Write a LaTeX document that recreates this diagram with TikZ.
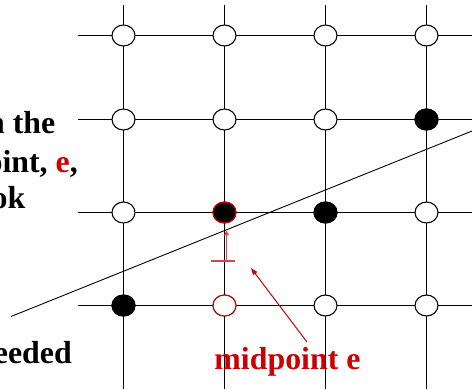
\documentclass[tikz,border=0pt]{standalone}
\usepackage{fontspec}
\setmainfont{Liberation Serif}
\usetikzlibrary{shapes.geometric,arrows.meta}
\definecolor{ered}{RGB}{204,0,0}
\definecolor{tickred}{RGB}{222,70,70}
\tikzset{
  grid line/.style={line width=1.1pt, black},
  pix/.style={ellipse, draw=black, line width=1.1pt, fill=white,
              minimum width=23bp, minimum height=21bp, inner sep=0pt},
  on/.style={pix, fill=black},
  label text/.style={font=\bfseries\fontsize{32}{36}\selectfont, inner sep=0pt},
}
\begin{document}
\begin{tikzpicture}[x=1bp,y=-1bp]
\useasboundingbox (0,0) rectangle (472,389);

% grid line end points
\foreach \c/\x in {1/123.5,2/224.5,3/325.5,4/426.5}{
  \coordinate (top\c) at (\x,5);
  \coordinate (bot\c) at (\x,389);
}
\foreach \r/\y in {1/35.5,2/119.5,3/212.5,4/305.5}{
  \coordinate (lft\r) at (78,\y);
  \coordinate (rgt\r) at (472,\y);
}
\foreach \i in {1,2,3,4}{
  \draw[grid line] (top\i) -- (bot\i);
  \draw[grid line] (lft\i) -- (rgt\i);
}

% pixel centres
\foreach \c/\x in {1/123.5,2/224.5,3/325.5,4/426.5}{
  \foreach \r/\y in {1/35.5,2/119.5,3/212.5,4/305.5}{
    \node[pix] (p\c\r) at (\x,\y) {};
  }
}
% chosen pixels
\node[on] at (p42) {};
\node[on] at (p33) {};
\node[on] at (p14) {};
\node[on, draw=ered] (cur) at (p23) {};
\node[pix, draw=ered] (mid) at (p24) {};

% the line being rasterised
\coordinate (la) at (11,316.5);
\coordinate (lb) at (472,131);
\draw[line width=0.9pt] (la) -- (lb);

% distance from midpoint to the line
\coordinate (tickL) at (211,261);
\coordinate (tickR) at (235,261);
\coordinate (tickM) at (226.5,261);
\coordinate (hit) at (226.5,230.5);
\draw[tickred, line width=1.4pt] (tickL) -- (tickR);
\draw[tickred, line width=1.6pt, -{Triangle[length=5pt,width=5pt]}] (tickM) -- (hit);

% midpoint label
\node[label text, text=ered, anchor=base] (mlabel) at (287.5,369) {midpoint e};
\coordinate (mtail) at (307,342);
\coordinate (mhead) at (251,268);
\draw[ered, line width=1pt, -{Triangle[length=7pt,width=5pt]}] (mtail) -- (mhead);

% side text
\node[label text, anchor=base east] (t1) at (55.5,133) {n the};
\node[label text, anchor=base east] (t2) at (78,172) {oint, \textcolor{ered}{e},};
\node[label text, anchor=base east] (t3) at (25.5,208) {ok};
\node[label text, anchor=base east] (t4) at (72,363) {eeded};
\end{tikzpicture}
\end{document}
